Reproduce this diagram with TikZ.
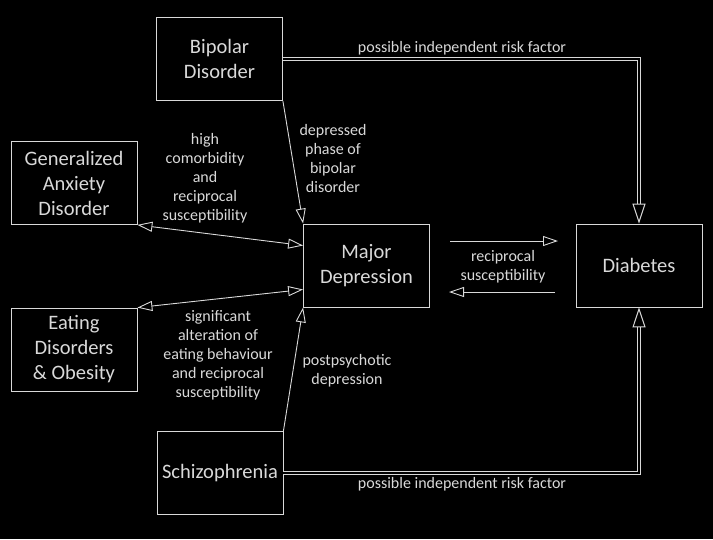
\documentclass[tikz,border=0pt]{standalone}
\usepackage{fontspec}
\setmainfont{Carlito}
\usetikzlibrary{arrows.meta,calc}
\definecolor{fg}{gray}{0.85}
\begin{document}
\begin{tikzpicture}[x=1pt,y=-1pt,
  box/.style={draw=fg,line width=0.8pt,minimum width=126pt,minimum height=83pt,inner sep=0pt,align=center,text=fg,font=\fontsize{20.5}{25}\selectfont},
  lab/.style={align=center,text=fg,font=\fontsize{16}{19}\selectfont,inner sep=0pt},
  conn/.style={draw=fg,line width=0.9pt},
  dconn/.style={draw=fg,line width=1pt,double=black,double distance=2pt},
  tip/.style={-{Triangle[open,length=15pt,width=10pt]}},
  bitip/.style={{Triangle[open,length=15pt,width=10pt]}-{Triangle[open,length=15pt,width=10pt]}},
  bigtip/.style={-{Triangle[open,length=20pt,width=13pt]}}
]
\fill[black] (0,0) rectangle (713,539);
\useasboundingbox (0,0) rectangle (713,539);

\node[box] (bip) at (219.5,59) {Bipolar\\Disorder};
\node[box] (gad) at (74,183) {Generalized\\Anxiety\\Disorder};
\node[box] (eat) at (74,349.5) {Eating\\Disorders\\\& Obesity};
\node[box] (md) at (366.5,265.5) {Major\\Depression};
\node[box] (dia) at (639,265.5) {Diabetes};
\node[box] (sch) at (220,473) {Schizophrenia};

\coordinate (r1) at (450,241);
\coordinate (r2) at (558,241);
\coordinate (l1) at (555,292);
\coordinate (l2) at (449,292);

\draw[dconn,bigtip] (bip.east) -- (bip.east -| dia.north) -- (dia.north);
\draw[dconn,bigtip] (sch.east) -- (sch.east -| dia.south) -- (dia.south);
\draw[conn,tip] (bip.south east) -- (md.north west);
\draw[conn,tip] (sch.north east) -- (md.south west);
\draw[conn,bitip] (gad.south east) -- ($(md.west)+(0,-20)$);
\draw[conn,bitip] (eat.north east) -- ($(md.west)+(0,24)$);
\draw[conn,tip] (r1) -- (r2);
\draw[conn,tip] (l1) -- (l2);

\node[lab] (t1) at (462,48) {possible independent risk factor};
\node[lab] (t2) at (462,484) {possible independent risk factor};
\node[lab] (t3) at (333,158) {depressed\\phase of\\bipolar\\disorder};
\node[lab] (t4) at (205,178.5) {high\\comorbidity\\and\\reciprocal\\susceptibility};
\node[lab] (t5) at (218,355) {significant\\alteration of\\eating behaviour\\and reciprocal\\susceptibility};
\node[lab] (t6) at (347,371) {postpsychotic\\depression};
\node[lab] (t7) at (503,266.5) {reciprocal\\susceptibility};
\end{tikzpicture}
\end{document}
